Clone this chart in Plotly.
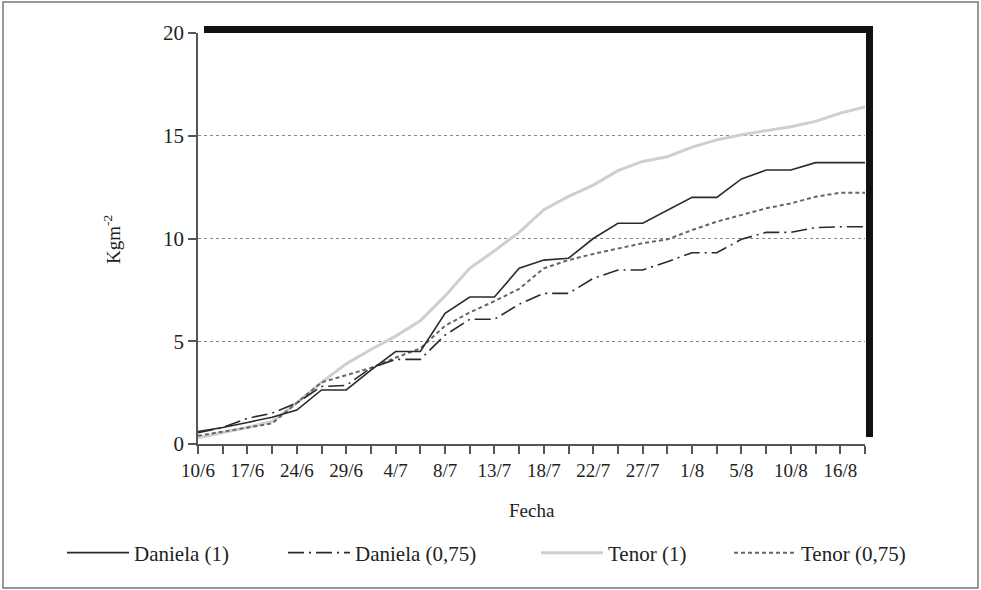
import plotly.graph_objects as go

# ---- data ----
tick_labels = ["10/6", "", "17/6", "", "24/6", "", "29/6", "", "4/7", "", "8/7", "", "13/7", "",
               "18/7", "", "22/7", "", "27/7", "", "1/8", "", "5/8", "", "10/8", "", "16/8", ""]
x_idx = list(range(len(tick_labels)))

daniela_1 = [0.6, 0.8, 1.05, 1.3, 1.65, 2.63, 2.63, 3.6, 4.5, 4.5, 6.36, 7.15, 7.15, 8.55,
             8.95, 9.04, 10.0, 10.74, 10.74, 11.39, 12.0, 12.0, 12.9, 13.33, 13.33, 13.69, 13.69, 13.69]
daniela_075 = [0.55, 0.8, 1.25, 1.5, 2.0, 2.8, 2.85, 3.7, 4.12, 4.12, 5.3, 6.07, 6.07, 6.8,
               7.33, 7.33, 8.06, 8.47, 8.47, 8.87, 9.31, 9.31, 9.96, 10.3, 10.3, 10.53, 10.57, 10.57]
tenor_1 = [0.3, 0.55, 0.8, 1.1, 2.0, 3.0, 3.9, 4.6, 5.25, 6.0, 7.2, 8.55, 9.4, 10.3,
           11.4, 12.05, 12.6, 13.3, 13.75, 13.98, 14.45, 14.8, 15.05, 15.25, 15.44, 15.7, 16.1, 16.4]
tenor_075 = [0.4, 0.6, 0.8, 1.0, 2.0, 3.0, 3.35, 3.7, 4.2, 4.65, 5.75, 6.4, 6.95, 7.55,
             8.55, 8.95, 9.25, 9.52, 9.77, 9.96, 10.41, 10.82, 11.14, 11.47, 11.71, 12.03, 12.23, 12.23]

series_names = ["Daniela (1)", "Daniela (0,75)", "Tenor (1)", "Tenor (0,75)"]

major_vals = [i for i, t in enumerate(tick_labels) if t]
major_text = [t for t in tick_labels if t]
minor_vals = [i for i, t in enumerate(tick_labels) if not t]

FONT = "Liberation Serif"

fig = go.Figure()
fig.add_trace(go.Scatter(x=x_idx, y=tenor_1, mode="lines", name=series_names[2],
                         line=dict(color="#cfcfcf", width=3), legend="legend3"))
fig.add_trace(go.Scatter(x=x_idx, y=tenor_075, mode="lines", name=series_names[3],
                         line=dict(color="#666666", width=2, dash="4px,3px"), legend="legend4"))
fig.add_trace(go.Scatter(x=x_idx, y=daniela_075, mode="lines", name=series_names[1],
                         line=dict(color="#2a2a2a", width=1.6, dash="16px,5px,2px,5px"), legend="legend2"))
fig.add_trace(go.Scatter(x=x_idx, y=daniela_1, mode="lines", name=series_names[0],
                         line=dict(color="#2a2a2a", width=1.6), legend="legend"))

W, H = 981, 590
L, R, T, B = 198, 116, 33, 146
pw, ph = W - L - R, H - T - B


def px_x(p):
    return (p - L) / pw


def px_y(p):
    return (H - B - p) / ph


leg_common = dict(orientation="h", yanchor="middle", xanchor="left", itemwidth=62,
                  font=dict(family=FONT, size=21, color="#222"), bgcolor="rgba(0,0,0,0)")
leg_y = px_y(553)

fig.update_layout(
    width=W, height=H,
    margin=dict(l=L, r=R, t=T, b=B),
    paper_bgcolor="white", plot_bgcolor="white",
    font=dict(family=FONT, color="#222"),
    showlegend=True,
    legend=dict(x=px_x(62), y=leg_y, **leg_common),
    legend2=dict(x=px_x(283), y=leg_y, **leg_common),
    legend3=dict(x=px_x(536), y=leg_y, **leg_common),
    legend4=dict(x=px_x(729), y=leg_y, **leg_common),
    xaxis=dict(range=[0, 27], tickmode="array", tickvals=major_vals, ticktext=major_text,
               showline=True, linecolor="#555", linewidth=1.5, ticks="outside", ticklen=8,
               tickcolor="#555", tickwidth=1.5, showgrid=False, zeroline=False,
               tickfont=dict(family=FONT, size=19, color="#222"),
               minor=dict(tickmode="array", tickvals=minor_vals, ticks="outside", ticklen=8,
                          tickcolor="#555", tickwidth=1.5, showgrid=False)),
    yaxis=dict(range=[0, 20], tickvals=[0, 5, 10, 15, 20], showline=True, linecolor="#555",
               linewidth=1.5, ticks="outside", ticklen=8, tickcolor="#555", tickwidth=1.5,
               showgrid=True, gridcolor="#888", griddash="dot", gridwidth=1, zeroline=False,
               tickfont=dict(family=FONT, size=21, color="#222")),
    annotations=[
        dict(text="Fecha", xref="paper", yref="paper", x=0.5, y=px_y(510), showarrow=False,
             font=dict(family=FONT, size=19, color="#222"), xanchor="center", yanchor="middle"),
        dict(text="Kgm<sup>-2</sup>", xref="paper", yref="paper", x=px_x(112), y=px_y(239),
             textangle=-90, showarrow=False, font=dict(family=FONT, size=19, color="#222"),
             xanchor="center", yanchor="middle"),
    ],
    shapes=[
        # shadow frame (top and right black bars)
        dict(type="rect", xref="paper", yref="paper", x0=px_x(204), x1=px_x(873),
             y0=px_y(33), y1=px_y(26), fillcolor="#111", line=dict(width=0)),
        dict(type="rect", xref="paper", yref="paper", x0=px_x(866), x1=px_x(873),
             y0=px_y(437), y1=px_y(26), fillcolor="#111", line=dict(width=0)),
        # outer border
        dict(type="rect", xref="paper", yref="paper", x0=px_x(3), x1=px_x(978),
             y0=px_y(588), y1=px_y(2), line=dict(color="#777", width=1.5)),
    ],
)

fig.write_html("out.html", config={"displayModeBar": False},
               post_script="document.body.style.margin='0';document.body.style.overflow='hidden';")
